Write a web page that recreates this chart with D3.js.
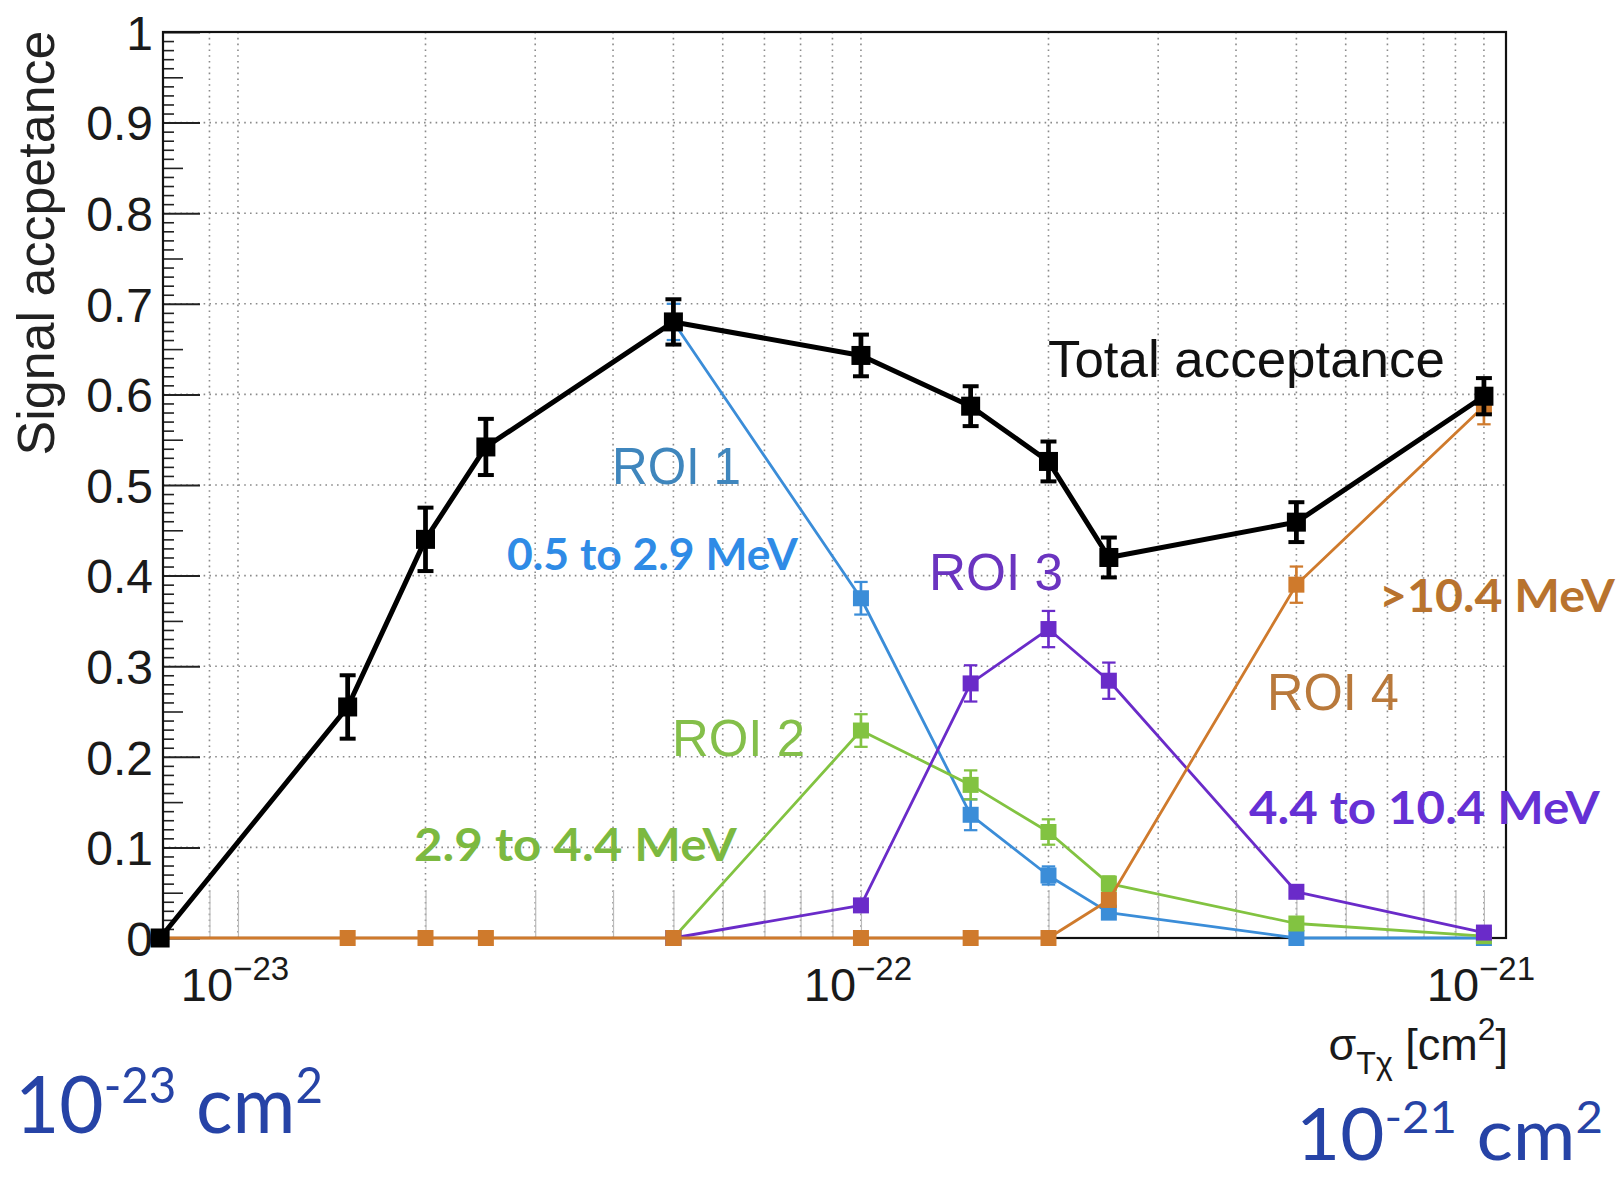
<!DOCTYPE html>
<html><head><meta charset="utf-8">
<script src="https://cdn.jsdelivr.net/npm/d3@7"></script>
<style>body{margin:0;background:#fff} svg{display:block}</style>
</head><body>
<svg id="c" width="1622" height="1177"></svg>
<script>
// ---------- data ----------
const sigma = [7.5e-24, 1.5e-23, 2e-23, 2.5e-23, 5e-23, 1e-22, 1.5e-22, 2e-22, 2.5e-22, 5e-22, 1e-21];
const total    = [0, 0.255, 0.440, 0.542, 0.680, 0.643, 0.587, 0.526, 0.420, 0.459, 0.598];
const totalErr = [0, 0.035, 0.035, 0.031, 0.025, 0.023, 0.022, 0.022, 0.022, 0.022, 0.020];
const roi1     = [null, null, null, null, 0.680, 0.375, 0.136, 0.069, 0.028, 0, 0];
const roi1Err  = [0, 0, 0, 0, 0.020, 0.018, 0.017, 0.010, 0.006, 0, 0];
const roi2     = [null, null, null, null, 0, 0.229, 0.169, 0.117, 0.060, 0.016, 0.002];
const roi2Err  = [0, 0, 0, 0, 0, 0.018, 0.016, 0.014, 0.008, 0.004, 0];
const roi3     = [null, null, null, null, 0, 0.036, 0.281, 0.341, 0.284, 0.051, 0.006];
const roi3Err  = [0, 0, 0, 0, 0, 0.006, 0.020, 0.020, 0.020, 0.006, 0.003];
const roi4     = [0, 0, 0, 0, 0, 0, 0, 0, 0.042, 0.390, 0.587];
const roi4Err  = [0, 0, 0, 0, 0, 0, 0, 0, 0.006, 0.020, 0.020];
const yTicks = [0, 0.1, 0.2, 0.3, 0.4, 0.5, 0.6, 0.7, 0.8, 0.9, 1];
const yTickLabels = ["0", "0.1", "0.2", "0.3", "0.4", "0.5", "0.6", "0.7", "0.8", "0.9", "1"];
const xDecades = [1e-23, 1e-22, 1e-21];
const xDecadeExp = ["\u221223", "\u221222", "\u221221"];

// ---------- setup ----------
const svg = d3.select("#c");
svg.append("rect").attr("width", 1622).attr("height", 1177).attr("fill", "#fff");
const L = 163, R = 1506, T = 32, B = 938;
const x = d3.scaleLog().domain([7.58e-24, 1.085e-21]).range([L, R]);
const y = d3.scaleLinear().domain([0, 1]).range([B, T]);
const helv = "'Liberation Sans', Arial, Helvetica, sans-serif";

// grid
const xGrid = x.ticks().filter(v => v > 8.5e-24 && v <= 1.08e-21);
svg.append("g").selectAll("line").data(xGrid).join("line")
  .attr("x1", d => x(d)).attr("x2", d => x(d)).attr("y1", T).attr("y2", B)
  .attr("stroke", "#8a8a8a").attr("stroke-width", 1.6).attr("stroke-dasharray", "1.6,4.2");
svg.append("g").selectAll("line").data(yTicks.filter(v => v > 0 && v < 1)).join("line")
  .attr("x1", L).attr("x2", R).attr("y1", d => y(d)).attr("y2", d => y(d))
  .attr("stroke", "#8a8a8a").attr("stroke-width", 1.6).attr("stroke-dasharray", "1.6,4.2");

// x-axis minor ticks (upward, light)
svg.append("g").attr("transform", `translate(0,${B})`)
  .call(d3.axisBottom(x).tickValues(xGrid).tickSize(-48).tickFormat(""))
  .call(g => g.select(".domain").remove())
  .call(g => g.selectAll(".tick line").attr("stroke", "#bbb").attr("stroke-width", 1.2));

// y-axis minor/medium ticks
const yMinor = d3.range(0, 101).map(i => i / 100).filter(v => Math.round(v * 100) % 10 !== 0);
svg.append("g").attr("transform", `translate(${L},0)`)
  .call(d3.axisLeft(y).tickValues(yMinor.filter(v => Math.round(v * 100) % 5 !== 0)).tickSize(-11).tickFormat(""))
  .call(g => g.select(".domain").remove())
  .call(g => g.selectAll(".tick line").attr("stroke", "#222").attr("stroke-width", 1.6));
svg.append("g").attr("transform", `translate(${L},0)`)
  .call(d3.axisLeft(y).tickValues(yMinor.filter(v => Math.round(v * 100) % 5 === 0)).tickSize(-20).tickFormat(""))
  .call(g => g.select(".domain").remove())
  .call(g => g.selectAll(".tick line").attr("stroke", "#222").attr("stroke-width", 1.6));
// y-axis major ticks + labels
svg.append("g").attr("transform", `translate(${L},0)`)
  .call(d3.axisLeft(y).tickValues(yTicks).tickSize(-37).tickPadding(10).tickFormat((d, i) => yTickLabels[i]))
  .call(g => g.select(".domain").remove())
  .call(g => g.selectAll(".tick line").attr("stroke", "#222").attr("stroke-width", 2))
  .call(g => g.selectAll(".tick text").attr("font-family", helv).attr("font-size", 48).attr("fill", "#1a1a1a").attr("dy", "0.36em"));

// frame
svg.append("rect").attr("x", L).attr("y", T).attr("width", R - L).attr("height", B - T)
  .attr("fill", "none").attr("stroke", "#111").attr("stroke-width", 2.2);

// x decade labels
const xl = svg.append("g").selectAll("text").data(xDecades).join("text")
  .attr("x", d => x(d) - 3).attr("y", 1001).attr("text-anchor", "middle")
  .attr("font-family", helv).attr("fill", "#1a1a1a");
xl.append("tspan").attr("font-size", 47).text("10");
xl.append("tspan").attr("font-size", 33).attr("dy", -21).text((d, i) => xDecadeExp[i]);

// ---------- series ----------
const series = [
  {v: roi1, e: roi1Err, c: "#3b8dd8", w: 2.8, m: 16},
  {v: roi2, e: roi2Err, c: "#82c341", w: 2.8, m: 16},
  {v: roi3, e: roi3Err, c: "#6a2bc9", w: 2.8, m: 16},
  {v: roi4, e: roi4Err, c: "#cf7a2c", w: 2.8, m: 16},
  {v: total, e: totalErr, c: "#000000", w: 5, m: 19}
];
series.forEach(s => {
  const pts = sigma.map((sx, i) => ({sx, v: s.v[i], e: s.e[i]})).filter(d => d.v !== null);
  const g = svg.append("g");
  g.append("path").datum(pts)
    .attr("d", d3.line().x(d => x(d.sx)).y(d => y(d.v)))
    .attr("fill", "none").attr("stroke", s.c).attr("stroke-width", s.w).attr("stroke-linejoin", "round");
  const eb = pts.filter(d => d.e > 0);
  const cap = s.m * 0.42;
  g.append("g").selectAll("line").data(eb).join("line")
    .attr("x1", d => x(d.sx)).attr("x2", d => x(d.sx))
    .attr("y1", d => y(d.v - d.e)).attr("y2", d => y(d.v + d.e))
    .attr("stroke", s.c).attr("stroke-width", s.w * 0.95);
  [1, -1].forEach(sg => {
    g.append("g").selectAll("line").data(eb).join("line")
      .attr("x1", d => x(d.sx) - cap).attr("x2", d => x(d.sx) + cap)
      .attr("y1", d => y(d.v + sg * d.e))
      .attr("y2", d => y(d.v + sg * d.e))
      .attr("stroke", s.c).attr("stroke-width", s.w * 0.8);
  });
  g.append("g").selectAll("rect").data(pts).join("rect")
    .attr("x", d => x(d.sx) - s.m / 2).attr("y", d => y(d.v) - s.m / 2)
    .attr("width", s.m).attr("height", s.m).attr("fill", s.c);
});

// ---------- text ----------
function fit(t, left, right) {
  const bb = t.node().getBBox();
  const s = (right - left) / bb.width;
  t.attr("transform", `translate(${left},0) scale(${s},1) translate(${-bb.x},0)`);
}
function label(txt, xx, yy, size, color, fam, weight, left, right) {
  const t = svg.append("text").attr("x", xx).attr("y", yy).attr("font-size", size)
    .attr("font-family", fam).attr("font-weight", weight).attr("fill", color).text(txt);
  if (left !== undefined) fit(t, left, right);
  return t;
}
// axis titles
svg.append("text").attr("transform", "translate(54,243) rotate(-90)").attr("text-anchor", "middle")
  .attr("font-family", helv).attr("font-size", 52).attr("fill", "#222").text("Signal accpetance");
const xt = svg.append("text").attr("x", 1508).attr("y", 1060).attr("text-anchor", "end")
  .attr("font-family", helv).attr("font-size", 45).attr("fill", "#1a1a1a");
xt.append("tspan").text("\u03c3");
xt.append("tspan").attr("font-size", 32).attr("dy", 14).text("T\u03c7");
xt.append("tspan").attr("dy", -14).text(" [cm");
xt.append("tspan").attr("font-size", 32).attr("dy", -20).text("2");
xt.append("tspan").attr("dy", 20).text("]");

// ROOT labels
label("Total acceptance", 1048, 377, 51, "#111", helv, "normal", 1048, 1445);
label("ROI 1", 612, 484, 51, "#3f86bd", helv, "normal", 612, 741);
label("ROI 2", 672, 756, 51, "#84bf4a", helv, "normal", 672, 805);
label("ROI 3", 929, 590, 51, "#6b34c0", helv, "normal", 929, 1063);
label("ROI 4", 1267, 710, 51, "#b9793b", helv, "normal", 1267, 1399);

// bold energy labels
const cal = "Lato, 'Open Sans', sans-serif";
label("0.5 to 2.9 MeV", 507, 570, 43, "#2f8be6", cal, "bold", 507, 799);
label("2.9 to 4.4 MeV", 414, 861, 46, "#7cb940", cal, "bold", 414, 738);
label("4.4 to 10.4 MeV", 1249, 824, 46, "#6530d5", cal, "bold", 1249, 1601);
label(">10.4 MeV", 1379, 612, 46, "#b8732e", cal, "bold", 1379, 1616);

// big range labels
function bigLabel(exp, left, right, base, size) {
  const t = svg.append("text").attr("x", left).attr("y", base).attr("font-family", cal)
    .attr("font-size", size).attr("fill", "#2643a6");
  t.append("tspan").text("10");
  t.append("tspan").attr("font-size", size * 0.62).attr("dy", -size * 0.38).text(exp);
  t.append("tspan").attr("dy", size * 0.38).text(" cm");
  t.append("tspan").attr("font-size", size * 0.62).attr("dy", -size * 0.38).text("2");
  fit(t, left, right);
}
bigLabel("-23", 15, 323, 1133, 80);
bigLabel("-21", 1296, 1603, 1160, 72);
</script>
</body></html>
